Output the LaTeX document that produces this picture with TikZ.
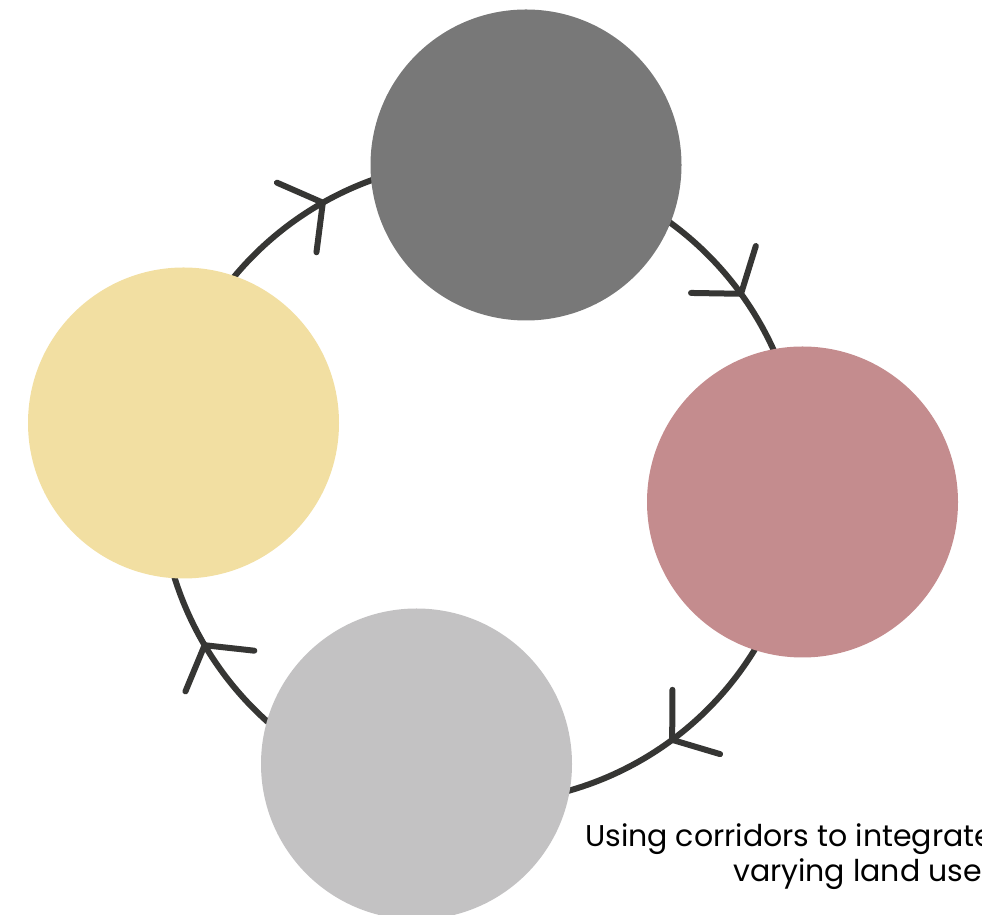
\documentclass[tikz,border=0pt]{standalone}
\usepackage{fontspec}
\setmainfont{Poppins}
\usetikzlibrary{decorations.markings}
\definecolor{ringc}{HTML}{363634}
\definecolor{cgray}{HTML}{787878}
\definecolor{cpink}{HTML}{C48C8E}
\definecolor{clight}{HTML}{C3C2C3}
\definecolor{cyellow}{HTML}{F2DFA2}
\tikzset{
  blob/.style={circle, minimum size=311pt, inner sep=0pt, draw=none},
  ringarc/.style={draw=ringc, line width=6pt},
  chev/.style={postaction={decorate}, decoration={markings,
     mark=at position #1 with {\draw[ringc, line width=6pt, line cap=round, line join=round] (-30,40) -- (0,0) -- (-30,-40);}}},
  caption/.style={font=\fontsize{30}{36}\selectfont, inner sep=0pt, anchor=base west, text=black}
}
\begin{document}
\begin{tikzpicture}[x=1pt,y=1pt]
\useasboundingbox (0,0) rectangle (982,915);
\coordinate (C) at (481,433);
% ring arcs (behind the circles)
\draw[ringarc, chev=0.538] (C) ++(81.9:321) arc[start angle=81.9, end angle=-3.6, radius=321];
\draw[ringarc, chev=0.502] (C) ++(-3.6:321) arc[start angle=-3.6, end angle=-102.9, radius=321];
\draw[ringarc, chev=0.527] (C) ++(-102.9:321) arc[start angle=-102.9, end angle=-191.2, radius=321];
\draw[ringarc, chev=0.567] (C) ++(168.8:321) arc[start angle=168.8, end angle=81.9, radius=321];
% circles
\node[blob, fill=cgray] (top) at (526,750) {};
\node[blob, fill=cpink] (right) at (802.5,413) {};
\node[blob, fill=clight] (bottom) at (416.5,151) {};
\node[blob, fill=cyellow] (left) at (183.5,492) {};
% caption
\node[caption] (cap1) at (585,68) {Using corridors to integrate};
\node[caption] (cap2) at (733,33) {varying land uses};
\end{tikzpicture}
\end{document}
